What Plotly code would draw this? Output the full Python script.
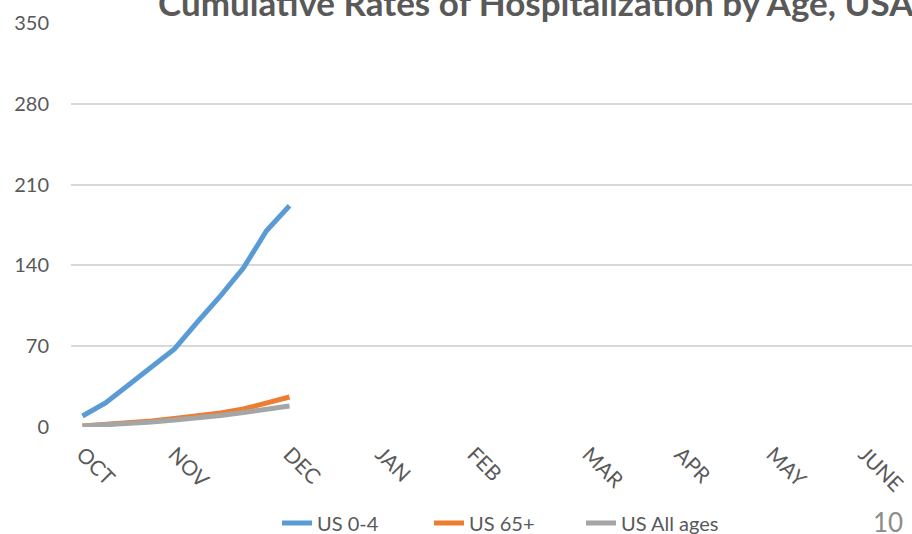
import plotly.graph_objects as go

# Weekly category index (week 0 = first week of October)
weeks = list(range(10))
us_0_4 = [9.5, 20.8, 36.4, 52.0, 67.7, 91.0, 113.6, 137.9, 170.0, 191.7]
us_65_plus = [0.9, 2.2, 3.5, 5.2, 7.4, 9.5, 12.1, 15.6, 21.3, 26.0]
us_all_ages = [0.9, 1.7, 3.0, 4.3, 6.1, 7.8, 10.0, 12.6, 15.6, 18.2]

month_labels = ["OCT", "NOV", "DEC", "JAN", "FEB", "MAR", "APR", "MAY", "JUNE"]
month_week_index = [0, 4, 9, 13, 17, 22, 26, 30, 34]
y_ticks = [0, 70, 140, 210, 280, 350]

title_text = "Cumulative Rates of Hospitalization by Age, USA"
slide_number = "10"

FONT = "Lato"
GRAY_TEXT = "#595959"

fig = go.Figure()
for name, vals, color in [
    ("US 0-4", us_0_4, "#5b9bd5"),
    ("US 65+", us_65_plus, "#ed7d31"),
    ("US All ages", us_all_ages, "#a5a5a5"),
]:
    fig.add_trace(go.Scatter(
        x=weeks, y=vals, mode="lines", name=name,
        line=dict(color=color, width=5, shape="linear"),
    ))

fig.update_layout(
    width=912, height=534,
    margin=dict(l=71, r=0, t=23, b=107, autoexpand=False),
    paper_bgcolor="white", plot_bgcolor="white",
    font=dict(family=FONT, color=GRAY_TEXT, size=20),
    showlegend=True,
    legend=dict(
        orientation="h", x=(277 - 71) / 841, xanchor="left",
        y=(427 - 523) / 404, yanchor="middle",
        font=dict(family=FONT, size=20, color=GRAY_TEXT),
        entrywidth=107, entrywidthmode="pixels", tracegroupgap=0,
        bgcolor="rgba(0,0,0,0)",
    ),
    xaxis=dict(
        range=[-0.5, -0.5 + 841 / 23],
        tickmode="array", tickvals=month_week_index, ticktext=month_labels,
        tickangle=45, showgrid=False, zeroline=False, showline=False,
        ticks="", ticklabelstandoff=10,
        tickfont=dict(family=FONT, size=21, color=GRAY_TEXT),
    ),
    yaxis=dict(
        range=[0, 350], tickmode="array", tickvals=y_ticks,
        showgrid=True, gridcolor="#d9d9d9", gridwidth=1.5,
        zeroline=False, showline=False, ticks="", ticklabelstandoff=21,
        tickfont=dict(family=FONT, size=20, color=GRAY_TEXT),
    ),
    annotations=[
        dict(text="<b>" + title_text + "</b>", xref="paper", yref="paper",
             x=0.553, y=(427 - 2) / 404, xanchor="center", yanchor="middle",
             showarrow=False, font=dict(family=FONT, size=35, color=GRAY_TEXT)),
        dict(text=slide_number, xref="paper", yref="paper",
             x=(888 - 71) / 841, y=(427 - 522) / 404, xanchor="center", yanchor="middle",
             showarrow=False, font=dict(family=FONT, size=26, color="#8c8c8c")),
    ],
)

fig.write_html(
    "out.html",
    config={"displayModeBar": False},
    post_script="document.body.style.margin='0';document.body.style.overflow='hidden';",
)
